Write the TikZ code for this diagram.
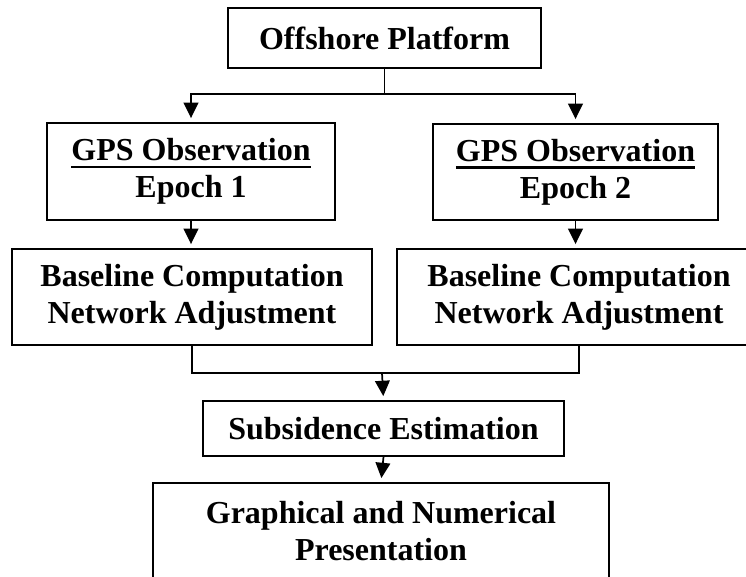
\documentclass[tikz,border=0pt]{standalone}
\usepackage{fontspec}
\setmainfont{Liberation Serif}
\usetikzlibrary{arrows.meta}
% underlined heading with a heavier rule than \underline gives
\newcommand{\headrule}[1]{\setbox0\hbox{#1}\leavevmode\vtop{\copy0\kern3.5pt\hrule height 2.2pt}}
\begin{document}
\begin{tikzpicture}[x=0.75pt,y=-0.75pt,
  stage/.style={draw,line width=1.4pt,align=center,inner sep=0pt,
    font=\fontsize{24}{28}\selectfont\bfseries},
  link/.style={line width=1.3pt},
  flow/.style={link,-{Triangle[length=11.5pt,width=11pt]},shorten >=3pt}]
\useasboundingbox (0,0) rectangle (746,576);
\clip (0,0) rectangle (746,576);

% process stages
\node[stage,minimum width=234.75pt,minimum height=45pt] (top) at (384.5,38) {Offshore Platform};
\node[stage,minimum width=216pt,minimum height=72.75pt] (g1) at (191,171.5) {\headrule{GPS Observation}\\Epoch 1};
\node[stage,minimum width=213.75pt,minimum height=72pt] (g2) at (575.5,172) {\headrule{GPS Observation}\\Epoch 2};
\node[stage,minimum width=270pt,minimum height=72pt] (b1) at (192,297) {Baseline Computation\\Network Adjustment};
\node[stage,minimum width=273pt,minimum height=72pt] (b2) at (579,297) {Baseline Computation\\Network Adjustment};
\node[stage,minimum width=270.75pt,minimum height=41.25pt] (sub) at (383.5,428.5) {Subsidence Estimation};
\node[stage,minimum width=342pt,minimum height=72pt] (gr) at (381,531) {Graphical and Numerical\\Presentation};

% split from the platform to both epochs
\coordinate (split) at (top.south |- 0,94);
\draw[link] (top.south) -- (split);
\draw[flow] (split) -| (g1.north);
\draw[flow] (split) -| (g2.north);

% epoch processing
\draw[flow] (g1.south) -- (g1.south |- b1.north);
\draw[flow] (g2.south) -- (g2.south |- b2.north);

% merge both adjustments
\coordinate (merge) at (382,373);
\draw[link] (b1.south) -- (b1.south |- merge) -| (b2.south);
\draw[flow] (merge) -- (sub.north);
\draw[flow] (sub.south) -- (gr.north);
\end{tikzpicture}
\end{document}
